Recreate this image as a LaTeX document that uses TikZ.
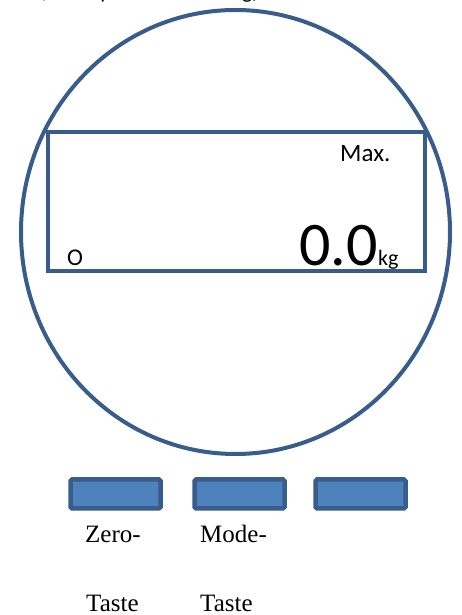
\documentclass[tikz,border=0pt]{standalone}
\usepackage{fontspec}
\setmainfont{Liberation Serif}
\newfontfamily\anzeigefont{Carlito}
\definecolor{rahmenblau}{HTML}{385D8A}
\definecolor{tastenblau}{HTML}{4F81BD}

\begin{document}
\begin{tikzpicture}[x=1pt,y=1pt,
    rand/.style={draw=rahmenblau, line width=4pt},
    taste/.style={draw=rahmenblau, fill=tastenblau, line width=4.5pt, rounded corners=1.5pt,
                  minimum width=90pt, minimum height=29pt, inner sep=0pt},
    lcd/.style={anchor=base west, inner sep=0pt},
    beschr/.style={anchor=base west, inner sep=0pt, font=\fontsize{25}{30}\selectfont}]
    \useasboundingbox (0,0) rectangle (462,615);
    \clip (0,0) rectangle (462,615);
    %Titel (oben abgeschnitten)
    \node[lcd, font=\anzeigefont\fontsize{22}{26}\selectfont] (titel) at (-24,616) {Ansicht, Frontplatte Bedienung)};
    %Gehaeuse und Anzeige
    \draw[rand] (235.5,383) ellipse (214.5 and 222);
    \draw[rand] (48,344) rectangle (425,483);
    \node[lcd, font=\anzeigefont\fontsize{25}{30}\selectfont] (max) at (340,453) {Max.};
    \node[lcd, font=\anzeigefont\fontsize{62}{70}\selectfont] (wert) at (299,349) {0.0};
    \node[lcd, font=\anzeigefont\fontsize{22}{26}\selectfont] (einheit) at (wert.base east) {kg};
    \node[lcd, font=\anzeigefont\fontsize{24}{28}\selectfont] (null) at (67,349) {O};
    %Tasten
    \node[taste] (zero) at (115.5,121) {};
    \node[taste] (mode) at (239.5,121) {};
    \node[taste] (dritte) at (360.5,121) {};
    \node[beschr] (zeroa) at (85,72) {Zero-};
    \node[beschr] (zerob) at (86,4) {Taste};
    \node[beschr] (modea) at (200,72) {Mode-};
    \node[beschr] (modeb) at (200,4) {Taste};
\end{tikzpicture}
\end{document}
